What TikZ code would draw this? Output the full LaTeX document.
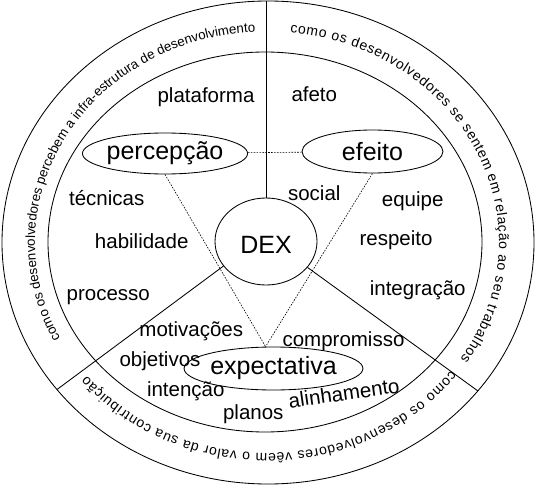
\documentclass[tikz,border=0pt]{standalone}
\usepackage{fontspec}
\setmainfont{Liberation Sans}
\usetikzlibrary{shapes.geometric,decorations.text}
\newcommand{\ringfontA}{\fontsize{13.3}{16}\selectfont}
\newcommand{\ringfontB}{\fontsize{14}{16}\selectfont}
\begin{document}
\begin{tikzpicture}[x=1pt,y=-1pt,line width=0.85pt,
  word/.style={font=\fontsize{20.5}{24}\selectfont,anchor=base,inner sep=0pt},
  oval/.style={draw,ellipse,inner sep=0pt,font=\fontsize{25}{30}\selectfont},
  dotline/.style={line width=0.6pt,dash pattern=on 1.6pt off 1.3pt}]
\useasboundingbox (0,0) rectangle (536,487);
% rings
\draw (268,242.5) ellipse [x radius=266, y radius=241.5];
\draw (265,242) ellipse [x radius=217, y radius=190];
% centre
\node[oval,minimum width=102,minimum height=87,text height=23] (dex) at (266,241.5) {DEX};
% separators
\coordinate (top) at (266,1);
\coordinate (ll) at (57,389.5);
\coordinate (lr) at (478,391);
\draw (dex.north) -- (top);
\draw (dex.210) -- (ll);
\draw (dex.-32) -- (lr);
% ovals
\node[oval,minimum width=140,minimum height=41] (per) at (165,153.5) {percepção};
\node[oval,minimum width=141,minimum height=43] (eff) at (372.5,151.5) {efeito};
\node[oval,minimum width=141,minimum height=43] (exp) at (273.5,368.5) {expectativa};
\draw[dotline] (per) -- (eff);
\draw[dotline] (per.south) -- (exp.110);
\draw[dotline] (eff.south) -- (exp.110);
% words
\node[word] (plat) at (206,102.5) {plataforma};
\node[word] (afeto) at (314.3,101.5) {afeto};
\node[word] (tec) at (106.7,205) {técnicas};
\node[word] (hab) at (141.7,248) {habilidade};
\node[word] (proc) at (108.3,300) {processo};
\node[word] (soc) at (314.3,200) {social};
\node[word] (equ) at (412.7,206) {equipe};
\node[word] (resp) at (396,245) {respeito};
\node[word] (integ) at (417.7,295) {integração};
\node[word] (mot) at (191.3,336.7) {motivações};
\node[word] (obj) at (160,366) {objetivos};
\node[word] (intc) at (185.8,396.7) {intenção};
\node[word] (plan) at (253.3,419) {planos};
\node[word] (comp) at (343.5,346) {compromisso};
\node[word,rotate=8] (alin) at (345,400.3) {alinhamento};
% ring texts
\path[decorate,decoration={text along path,
  text={|\ringfontA|como os desenvolvedores percebem a infra-estrutura de desenvolvimento},
  text align=center}]
  plot[domain=-208:-92,samples=150] ({267+232*cos(\x)},{242.5+211*sin(\x)});
\path[decorate,decoration={text along path,
  text={|\ringfontB|como os desenvolvedores se sentem em relação ao seu trabalhos},
  text align=fit to path}]
  plot[domain=-84.3:33.6,samples=150] ({267+232*cos(\x)},{242.5+211*sin(\x)});
\path[decorate,decoration={text along path,
  text={|\ringfontB|como os desenvolvedores vêem o valor da sua contribuição},
  text align=fit to path}]
  plot[domain=37.5:140.9,samples=150] ({267+232*cos(\x)},{242.5+211*sin(\x)});
\end{tikzpicture}
\end{document}
